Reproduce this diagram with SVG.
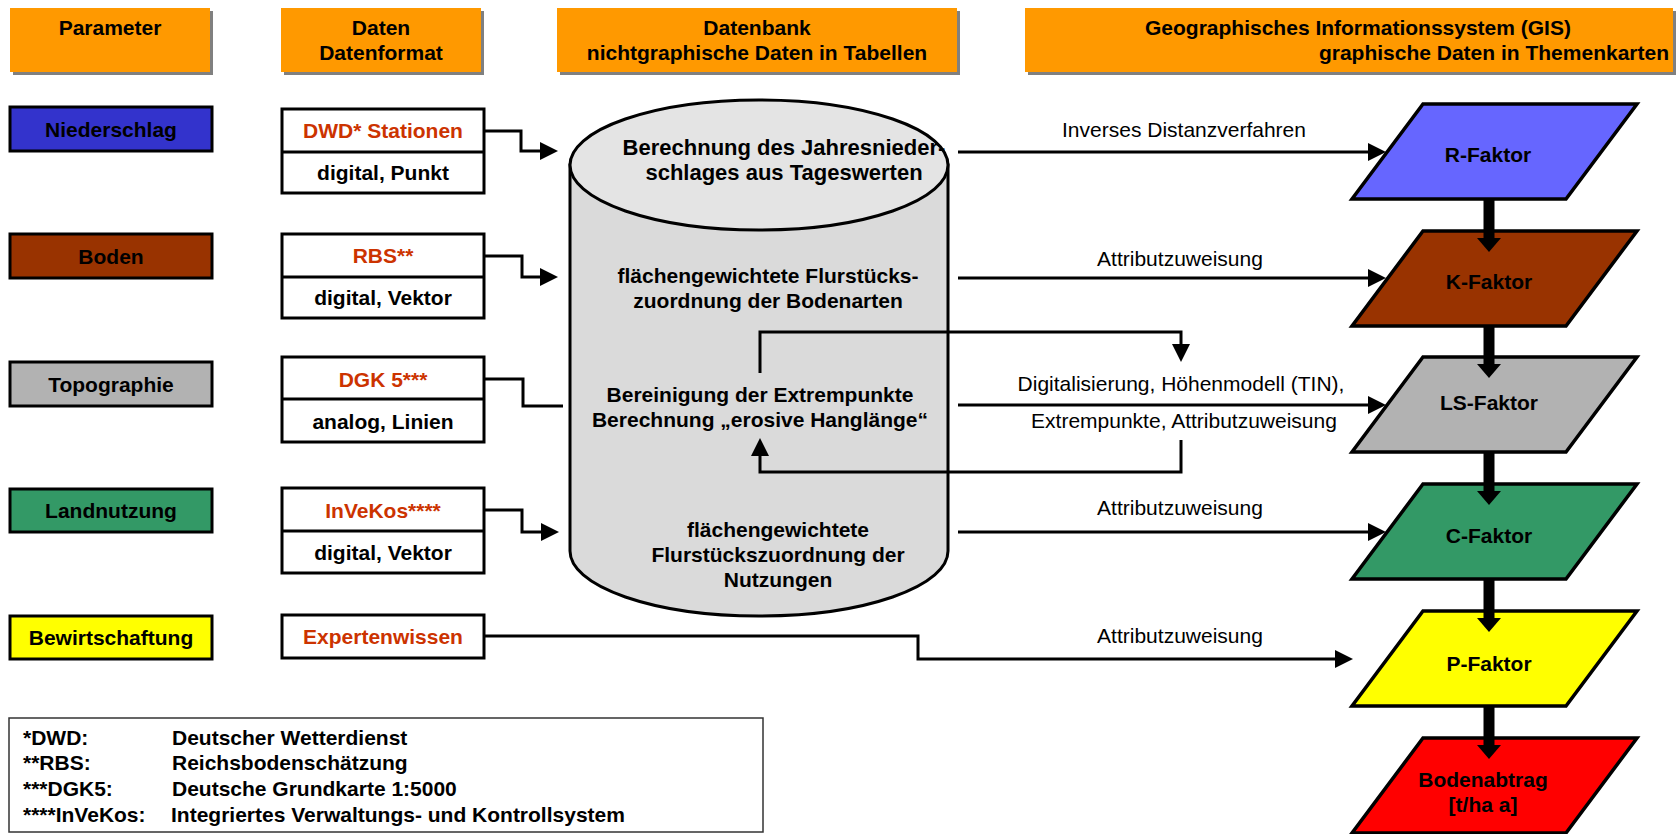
<svg xmlns="http://www.w3.org/2000/svg" width="1676" height="834" viewBox="0 0 1676 834">
<defs>
<style>
.hdr{fill:#FF9900}
.shd{fill:#808080}
.t{font-family:"Liberation Sans",Arial,sans-serif;font-size:21px;font-weight:bold;fill:#000;text-anchor:middle}
.big{font-size:22px}
.n{font-weight:normal}
.red{fill:#CC3300}
.l{text-anchor:start}
.e{text-anchor:end}
.box{stroke:#000;stroke-width:3}
.wb{fill:#fff;stroke:#000;stroke-width:3}
.pg{stroke:#000;stroke-width:3.5;stroke-linejoin:miter}
.conn{fill:none;stroke:#000;stroke-width:3}
.thick{fill:none;stroke:#000;stroke-width:11}
.lg{font-family:"Liberation Sans",Arial,sans-serif;font-size:21px;font-weight:bold;fill:#000}
</style>
<marker id="ah" markerUnits="userSpaceOnUse" markerWidth="18" markerHeight="18" refX="9" refY="9" orient="auto"><path d="M0,0 L18,9 L0,18 Z" fill="#000"/></marker>
<marker id="tah" markerUnits="userSpaceOnUse" markerWidth="14" markerHeight="24" refX="2" refY="12" orient="auto"><path d="M0,0 L14,12 L0,24 Z" fill="#000"/></marker>
</defs>
<rect width="1676" height="834" fill="#fff"/>

<g id="hdr-parameter">
<rect class="shd" x="13" y="11" width="200" height="64"/>
<rect class="hdr" x="10" y="8" width="200" height="64"/>
<text class="t" x="110" y="35">Parameter</text>
</g>
<g id="hdr-daten">
<rect class="shd" x="284" y="11" width="200" height="64"/>
<rect class="hdr" x="281" y="8" width="200" height="64"/>
<text class="t" x="381" y="35">Daten</text>
<text class="t" x="381" y="60">Datenformat</text>
</g>
<g id="hdr-datenbank">
<rect class="shd" x="560" y="11" width="400" height="64"/>
<rect class="hdr" x="557" y="8" width="400" height="64"/>
<text class="t" x="757" y="35">Datenbank</text>
<text class="t" x="757" y="60">nichtgraphische Daten in Tabellen</text>
</g>
<g id="hdr-gis">
<rect class="shd" x="1028" y="11" width="648" height="64"/>
<rect class="hdr" x="1025" y="8" width="648" height="64"/>
<text class="t l" x="1145" y="35">Geographisches Informationssystem (GIS)</text>
<text class="t e" x="1669" y="60">graphische Daten in Themenkarten</text>
</g>

<g id="p-niederschlag">
<rect class="box" x="10" y="107" width="202" height="44" fill="#3333CC"/>
<text class="t" x="111" y="137">Niederschlag</text>
</g>
<g id="p-boden">
<rect class="box" x="10" y="234" width="202" height="44" fill="#993300"/>
<text class="t" x="111" y="264">Boden</text>
</g>
<g id="p-topographie">
<rect class="box" x="10" y="362" width="202" height="44" fill="#B2B2B2"/>
<text class="t" x="111" y="392">Topographie</text>
</g>
<g id="p-landnutzung">
<rect class="box" x="10" y="489" width="202" height="43" fill="#339966"/>
<text class="t" x="111" y="518">Landnutzung</text>
</g>
<g id="p-bewirtschaftung">
<rect class="box" x="10" y="616" width="202" height="43" fill="#FFFF00"/>
<text class="t" x="111" y="645">Bewirtschaftung</text>
</g>

<g id="d-dwd">
<rect class="wb" x="282" y="109" width="202" height="84"/>
<line class="conn" x1="282" y1="152" x2="484" y2="152"/>
<text class="t red" x="383" y="138">DWD* Stationen</text>
<text class="t" x="383" y="180">digital, Punkt</text>
</g>
<g id="d-rbs">
<rect class="wb" x="282" y="234" width="202" height="84"/>
<line class="conn" x1="282" y1="277" x2="484" y2="277"/>
<text class="t red" x="383" y="263">RBS**</text>
<text class="t" x="383" y="305">digital, Vektor</text>
</g>
<g id="d-dgk">
<rect class="wb" x="282" y="357" width="202" height="85"/>
<line class="conn" x1="282" y1="399" x2="484" y2="399"/>
<text class="t red" x="383" y="387">DGK 5***</text>
<text class="t" x="383" y="429">analog, Linien</text>
</g>
<g id="d-invekos">
<rect class="wb" x="282" y="488" width="202" height="85"/>
<line class="conn" x1="282" y1="531" x2="484" y2="531"/>
<text class="t red" x="383" y="518">InVeKos****</text>
<text class="t" x="383" y="560">digital, Vektor</text>
</g>
<g id="d-experten">
<rect class="wb" x="282" y="615" width="202" height="43"/>
<text class="t red" x="383" y="644">Expertenwissen</text>
</g>

<g id="datenbank">
<path d="M570,165 V551 A189,65 0 0 0 948,551 V165 Z" fill="#DADADA" stroke="#000" stroke-width="3"/>
<ellipse cx="759" cy="165" rx="189" ry="65" fill="#E4E4E4" stroke="#000" stroke-width="3"/>
<text class="t big" x="784" y="155">Berechnung des Jahresnieder-</text>
<text class="t big" x="784" y="180">schlages aus Tageswerten</text>
<text class="t" x="768" y="283">flächengewichtete Flurstücks-</text>
<text class="t" x="768" y="308">zuordnung der Bodenarten</text>
<text class="t" x="760" y="402">Bereinigung der Extrempunkte</text>
<text class="t" x="760" y="427">Berechnung „erosive Hanglänge“</text>
<text class="t" x="778" y="537">flächengewichtete</text>
<text class="t" x="778" y="562">Flurstückszuordnung der</text>
<text class="t" x="778" y="587">Nutzungen</text>
</g>

<g id="f-r">
<polygon class="pg" points="1423,104 1637,104 1566,199 1352,199" fill="#6666FF"/>
<text class="t" x="1488" y="162">R-Faktor</text>
</g>
<g id="f-k">
<polygon class="pg" points="1423,231 1637,231 1566,326 1352,326" fill="#993300"/>
<text class="t" x="1489" y="289">K-Faktor</text>
</g>
<g id="f-ls">
<polygon class="pg" points="1423,357 1637,357 1566,452 1352,452" fill="#B2B2B2"/>
<text class="t" x="1489" y="410">LS-Faktor</text>
</g>
<g id="f-c">
<polygon class="pg" points="1423,484 1637,484 1566,579 1352,579" fill="#339966"/>
<text class="t" x="1489" y="543">C-Faktor</text>
</g>
<g id="f-p">
<polygon class="pg" points="1423,611 1637,611 1566,706 1352,706" fill="#FFFF00"/>
<text class="t" x="1489" y="671">P-Faktor</text>
</g>
<g id="f-bodenabtrag">
<polygon class="pg" points="1423,738 1637,738 1566,833 1352,833" fill="#FF0000"/>
<text class="t" x="1483" y="787">Bodenabtrag</text>
<text class="t" x="1483" y="812">[t/ha a]</text>
</g>

<g id="connectors">
<path class="conn" d="M484,131 H521 V151 H549" marker-end="url(#ah)"/>
<path class="conn" d="M484,256 H522 V277 H549" marker-end="url(#ah)"/>
<path class="conn" d="M484,379 H523 V406 H563"/>
<path class="conn" d="M484,510 H522 V532 H550" marker-end="url(#ah)"/>
<path class="conn" d="M484,636 H918 V659 H1344" marker-end="url(#ah)"/>
<path class="conn" d="M958,152 H1377" marker-end="url(#ah)"/>
<path class="conn" d="M958,278 H1377" marker-end="url(#ah)"/>
<path class="conn" d="M958,405 H1377" marker-end="url(#ah)"/>
<path class="conn" d="M958,532 H1377" marker-end="url(#ah)"/>
<path class="conn" d="M760,373 V332 H1181 V353" marker-end="url(#ah)"/>
<path class="conn" d="M1181,440 V472 H760 V447" marker-end="url(#ah)"/>
<path class="thick" d="M1489,199 V240" marker-end="url(#tah)"/>
<path class="thick" d="M1489,326 V366" marker-end="url(#tah)"/>
<path class="thick" d="M1489,452 V493" marker-end="url(#tah)"/>
<path class="thick" d="M1489,579 V620" marker-end="url(#tah)"/>
<path class="thick" d="M1489,706 V747" marker-end="url(#tah)"/>
<text class="t n" x="1184" y="137">Inverses Distanzverfahren</text>
<text class="t n" x="1180" y="266">Attributzuweisung</text>
<text class="t n" x="1181" y="391">Digitalisierung, Höhenmodell (TIN),</text>
<text class="t n" x="1184" y="428">Extrempunkte, Attributzuweisung</text>
<text class="t n" x="1180" y="515">Attributzuweisung</text>
<text class="t n" x="1180" y="643">Attributzuweisung</text>
</g>

<g id="legend">
<rect x="9" y="718" width="754" height="114" fill="#fff" stroke="#333" stroke-width="1.5"/>
<text class="lg" x="23" y="745">*DWD:</text>
<text class="lg" x="172" y="745">Deutscher Wetterdienst</text>
<text class="lg" x="23" y="770">**RBS:</text>
<text class="lg" x="172" y="770">Reichsbodenschätzung</text>
<text class="lg" x="23" y="796">***DGK5:</text>
<text class="lg" x="172" y="796">Deutsche Grundkarte 1:5000</text>
<text class="lg" x="23" y="822">****InVeKos:</text>
<text class="lg" x="171" y="822">Integriertes Verwaltungs- und Kontrollsystem</text>
</g>
</svg>
